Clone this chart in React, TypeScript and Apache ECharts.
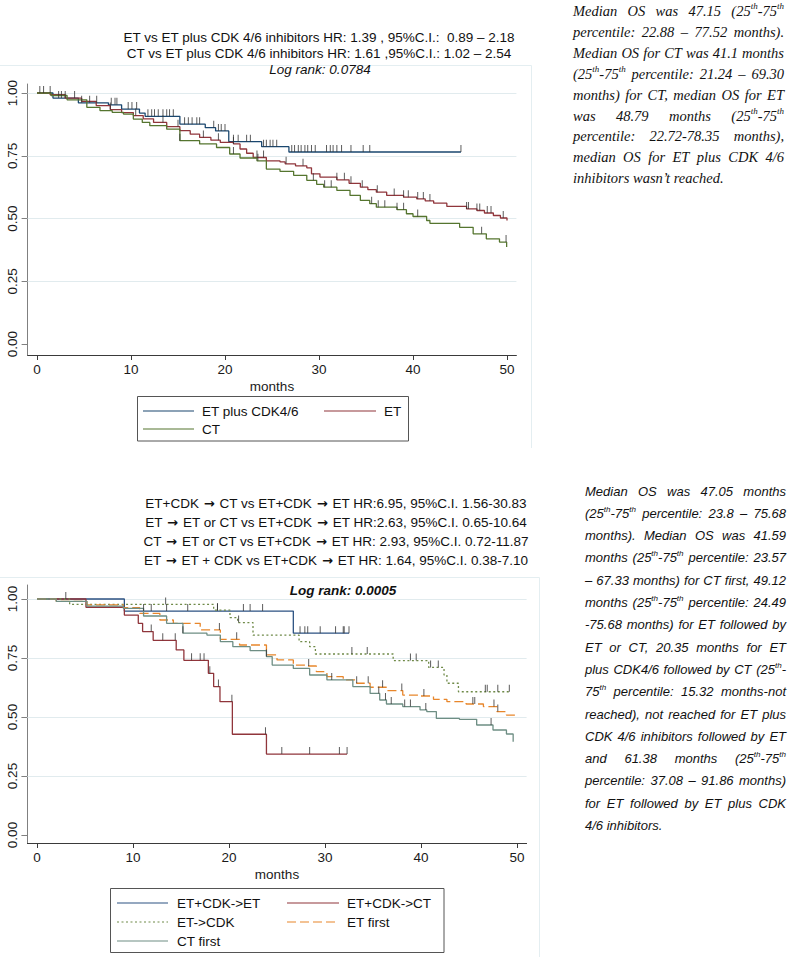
import React, { useEffect, useRef } from "react";
import * as echarts from "echarts";

const FONT = "Liberation Sans";
const SERIF = "Liberation Serif";

// ---------- axis ticks ----------
const monthTicks = [0, 10, 20, 30, 40, 50];
const survTicks = [0, 0.25, 0.5, 0.75, 1];
const gridLevels = [0.25, 0.5, 0.75, 1];

// ---------- top chart ----------
const topCdkTime = [0, 1.7, 4.4, 7.6, 9.0, 10.9, 11.5, 15.2, 17.9, 19.0, 20.4, 23.9, 26.8, 45.1];
const topCdkSurv = [1, 0.98, 0.961, 0.953, 0.936, 0.92, 0.907, 0.876, 0.862, 0.849, 0.806, 0.786, 0.765, 0.765];
const topCdkCensor = [0.3, 0.7, 1.4, 2.3, 2.6, 3.0, 4.0, 4.75, 5.6, 6.35, 7.9, 8.3, 8.5, 9.7, 10.1, 10.6, 11.8, 12.2, 12.5, 12.9, 13.4, 13.8, 14.1, 14.5, 15.7, 16.1, 16.5, 17.0, 17.3, 18.8, 19.3, 19.6, 20.0, 20.9, 21.4, 22.3, 22.7, 24.1, 24.4, 24.8, 25.1, 25.5, 27.1, 27.4, 27.8, 28.1, 28.5, 28.8, 29.2, 29.6, 30.8, 31.2, 31.5, 31.9, 32.4, 33.4, 34.7, 35.4, 45.1];

const topEtTime = [0, 1.4, 3.0, 4.75, 6.3, 7.8, 9.0, 10.25, 11.3, 12.4, 13.8, 15.2, 16.3, 17.3, 18.5, 19.5, 20.9, 21.6, 22.3, 23.0, 24.4, 25.85, 26.4, 27.5, 28.7, 29.2, 30.1, 31.9, 33.2, 34.4, 35.2, 36.1, 37.2, 39.0, 40.4, 41.3, 42.2, 43.6, 45.7, 46.8, 47.6, 48.55, 49.3, 50.0];
const topEtSurv = [1, 0.993, 0.98, 0.967, 0.95, 0.934, 0.922, 0.91, 0.897, 0.883, 0.866, 0.85, 0.836, 0.823, 0.812, 0.803, 0.797, 0.777, 0.76, 0.743, 0.73, 0.726, 0.718, 0.71, 0.702, 0.678, 0.665, 0.654, 0.64, 0.625, 0.615, 0.605, 0.592, 0.585, 0.578, 0.57, 0.561, 0.548, 0.538, 0.532, 0.522, 0.512, 0.502, 0.492];
const topEtCensor = [7.8, 10.5, 13.4, 15.0, 17.7, 19.3, 20.9, 23.4, 24.1, 26.5, 28.3, 31.9, 32.7, 33.4, 34.6, 36.2, 38.0, 39.0, 39.5, 40.5, 41.1, 41.8, 45.7, 45.9, 46.8, 47.1, 47.9, 48.3, 49.6];

const topCtTime = [0, 1.5, 3.2, 5.3, 6.7, 8.0, 9.2, 10.25, 11.2, 12.0, 13.8, 15.2, 17.3, 19.1, 20.5, 21.6, 23.4, 24.4, 25.85, 27.3, 28.7, 29.75, 30.5, 31.9, 33.3, 34.4, 35.4, 36.1, 38.3, 39.3, 40.0, 41.45, 41.8, 44.96, 46.4, 47.8, 49.2, 49.96];
const topCtSurv = [1, 0.99, 0.973, 0.943, 0.93, 0.923, 0.916, 0.896, 0.883, 0.87, 0.856, 0.81, 0.797, 0.783, 0.757, 0.741, 0.73, 0.697, 0.688, 0.672, 0.652, 0.636, 0.625, 0.612, 0.592, 0.572, 0.559, 0.545, 0.535, 0.519, 0.508, 0.492, 0.481, 0.465, 0.439, 0.419, 0.406, 0.386];
const topCtCensor = [15.2, 20.9, 23.5, 29.4, 30.6, 31.3, 35.6, 36.3, 37.0, 38.3, 39.0, 40.5, 47.3, 49.9];

const topHeader = [
  "ET vs ET plus CDK 4/6 inhibitors HR: 1.39 , 95%C.I.:  0.89 – 2.18",
  "CT vs ET plus CDK 4/6 inhibitors HR: 1.61 ,95%C.I.: 1.02 – 2.54",
];
const topLogRank = "Log rank: 0.0784";

const topNote = [
  "Median OS was 47.15 (25{th}-75{th}",
  "percentile: 22.88 – 77.52 months).",
  "Median OS for CT was 41.1 months",
  "(25{th}-75{th} percentile: 21.24 – 69.30",
  "months) for CT, median OS for ET",
  "was 48.79 months (25{th}-75{th}",
  "percentile: 22.72-78.35 months),",
  "median OS for ET plus CDK 4/6",
  "inhibitors wasn’t reached.",
];

// ---------- bottom chart ----------
const botCdkEtTime = [0, 9.1, 26.7, 32.5];
const botCdkEtSurv = [1, 0.949, 0.855, 0.855];
const botCdkEtCensor = [3.0, 11.1, 11.9, 13.5, 15.7, 18.8, 21.5, 22.2, 23.5, 27.4, 27.9, 28.2, 29.5, 31.1, 31.9, 32.0, 32.5];

const botCdkCtTime = [0, 5.1, 9.1, 10.55, 11.0, 12.1, 14.5, 15.3, 17.85, 18.4, 19.06, 20.35, 23.9, 32.3];
const botCdkCtSurv = [1, 0.965, 0.932, 0.897, 0.862, 0.825, 0.784, 0.74, 0.685, 0.629, 0.565, 0.427, 0.343, 0.343];
const botCdkCtCensor = [11.9, 13.1, 14.4, 16.1, 17.0, 17.4, 18.0, 18.9, 20.3, 23.8, 25.5, 28.4, 31.5, 32.3];

const botEtCdkTime = [0, 3.4, 18.4, 20.1, 20.9, 22.5, 27.3, 28.4, 29.0, 37.1, 40.8, 42.4, 42.7, 43.9, 49.4];
const botEtCdkSurv = [1, 0.977, 0.953, 0.921, 0.9, 0.847, 0.819, 0.798, 0.767, 0.739, 0.71, 0.678, 0.643, 0.607, 0.607];
const botEtCdkCensor = [13.4, 18.8, 21.0, 32.8, 34.4, 38.9, 39.5, 41.0, 41.8, 46.7, 46.9, 48.0, 49.2];

const botEtFirstTime = [0, 2.0, 5.2, 9.0, 10.7, 12.8, 14.2, 17.0, 19.1, 21.1, 23.9, 25.0, 26.7, 28.1, 29.1, 30.2, 31.9, 33.3, 34.7, 36.4, 38.1, 39.9, 41.3, 42.7, 44.7, 46.5, 47.9, 48.9, 49.8];
const botEtFirstSurv = [1, 0.99, 0.975, 0.963, 0.939, 0.911, 0.897, 0.869, 0.829, 0.805, 0.763, 0.742, 0.72, 0.716, 0.692, 0.671, 0.657, 0.643, 0.626, 0.612, 0.593, 0.589, 0.575, 0.565, 0.555, 0.544, 0.523, 0.508, 0.494];
const botEtFirstCensor = [19.0, 20.8, 28.3, 33.3, 34.5, 36.0, 38.0, 40.3, 45.4, 45.6, 47.6, 48.0];

const botCtFirstTime = [0, 2.0, 5.2, 9.0, 11.1, 13.5, 15.2, 17.7, 19.1, 20.4, 22.2, 23.9, 24.5, 26.7, 28.4, 30.2, 32.9, 34.7, 35.7, 36.4, 38.1, 39.9, 40.6, 41.6, 44.0, 45.8, 47.5, 48.9, 49.6];
const botCtFirstSurv = [1, 0.99, 0.97, 0.96, 0.928, 0.897, 0.855, 0.847, 0.819, 0.798, 0.781, 0.756, 0.72, 0.706, 0.678, 0.657, 0.629, 0.6, 0.572, 0.555, 0.544, 0.53, 0.523, 0.494, 0.49, 0.466, 0.445, 0.428, 0.395];
const botCtFirstCensor = [15.2, 23.9, 30.7, 35.6, 36.3, 36.9, 38.3, 38.9, 40.5, 47.3];

// "{a|→}" marks the arrow glyph
const botHeader = [
  "ET+CDK {a|→} CT vs ET+CDK {a|→} ET HR:6.95, 95%C.I. 1.56-30.83",
  "ET {a|→} ET or CT vs ET+CDK {a|→} ET HR:2.63, 95%C.I. 0.65-10.64",
  "CT {a|→} ET or CT vs ET+CDK {a|→} ET HR: 2.93, 95%C.I. 0.72-11.87",
  "ET {a|→} ET + CDK vs ET+CDK {a|→} ET HR: 1.64, 95%C.I. 0.38-7.10",
];
const botLogRank = "Log rank: 0.0005";

const botNote = [
  "Median OS was 47.05 months",
  "(25{th}-75{th} percentile: 23.8 – 75.68",
  "months). Median OS was 41.59",
  "months (25{th}-75{th} percentile: 23.57",
  "– 67.33 months) for CT first, 49.12",
  "months (25{th}-75{th} percentile: 24.49",
  "-75.68 months) for ET followed by",
  "ET or CT, 20.35 months for ET",
  "plus CDK4/6 followed by CT (25{th}-",
  "75{th} percentile: 15.32 months-not",
  "reached), not reached for ET plus",
  "CDK 4/6 inhibitors followed by ET",
  "and 61.38 months (25{th}-75{th}",
  "percentile: 37.08 – 91.86 months)",
  "for ET followed by ET plus CDK",
  "4/6 inhibitors.",
];

// ---------- helpers ----------
type Curve = { name: string; t: number[]; s: number[]; c: number[]; color: string; dash: any };

const topCurves: Curve[] = [
  { name: "ET plus CDK4/6", t: topCdkTime, s: topCdkSurv, c: topCdkCensor, color: "#1a476f", dash: "solid" },
  { name: "ET", t: topEtTime, s: topEtSurv, c: topEtCensor, color: "#90353b", dash: "solid" },
  { name: "CT", t: topCtTime, s: topCtSurv, c: topCtCensor, color: "#55752f", dash: "solid" },
];
const botCurves: Curve[] = [
  { name: "ET+CDK->ET", t: botCdkEtTime, s: botCdkEtSurv, c: botCdkEtCensor, color: "#2c5282", dash: "solid" },
  { name: "ET+CDK->CT", t: botCdkCtTime, s: botCdkCtSurv, c: botCdkCtCensor, color: "#90353b", dash: "solid" },
  { name: "ET->CDK", t: botEtCdkTime, s: botEtCdkSurv, c: botEtCdkCensor, color: "#6f8a48", dash: [2, 2.5] },
  { name: "ET first", t: botEtFirstTime, s: botEtFirstSurv, c: botEtFirstCensor, color: "#e8862b", dash: [9, 4] },
  { name: "CT first", t: botCtFirstTime, s: botCtFirstSurv, c: botCtFirstCensor, color: "#6e8e84", dash: "solid" },
];

function survAt(t: number[], s: number[], x: number) {
  let v = s[0];
  for (let i = 0; i < t.length; i++) if (t[i] <= x) v = s[i];
  return v;
}

function curveSeries(cv: Curve, gi: number, first: boolean) {
  const line: any = {
    type: "line",
    name: cv.name,
    xAxisIndex: gi,
    yAxisIndex: gi,
    data: cv.t.map((v, i) => [v, cv.s[i]]),
    step: "end",
    symbol: "none",
    showSymbol: false,
    silent: true,
    z: 3,
    lineStyle: { color: cv.color, width: 1.3, type: cv.dash },
  };
  if (first) {
    line.markLine = {
      silent: true,
      z: 1,
      symbol: ["none", "none"],
      label: { show: false },
      lineStyle: { color: "#e1ebee", width: 1, type: "solid" },
      data: gridLevels.map((v) => ({ yAxis: v })),
    };
  }
  const ticks = {
    type: "scatter",
    xAxisIndex: gi,
    yAxisIndex: gi,
    data: cv.c.map((x) => [x, survAt(cv.t, cv.s, x)]),
    symbol: "rect",
    symbolSize: [1, 7],
    symbolOffset: [0, -3.5],
    itemStyle: { color: "#333" },
    silent: true,
    z: 4,
  };
  return [line, ticks];
}

function xAxis(gi: number) {
  return {
    type: "value",
    gridIndex: gi,
    min: -1,
    max: 51,
    axisLine: { show: true, onZero: false, lineStyle: { color: "#3a3a3a", width: 1 } },
    axisTick: { show: true, customValues: monthTicks, length: 5, lineStyle: { color: "#3a3a3a" } },
    axisLabel: { show: true, customValues: monthTicks, margin: 7, fontSize: 13.5, fontFamily: FONT, color: "#1a1a1a" },
    splitLine: { show: false },
    name: "months",
    nameLocation: "middle",
    nameGap: 24,
    nameTextStyle: { fontSize: 13.5, fontFamily: FONT, color: "#1a1a1a" },
  };
}

function yAxis(gi: number, min: number, max: number) {
  return {
    type: "value",
    gridIndex: gi,
    min,
    max,
    axisLine: { show: true, onZero: false, lineStyle: { color: "#808080", width: 1 } },
    axisTick: { show: true, customValues: survTicks, length: 6, lineStyle: { color: "#808080" } },
    axisLabel: {
      show: true,
      customValues: survTicks,
      rotate: 90,
      margin: 8,
      fontSize: 13.5,
      fontFamily: FONT,
      color: "#1a1a1a",
      formatter: (v: number) => v.toFixed(2),
    },
    splitLine: { show: false },
  };
}

type Seg = { text: string; sup: boolean };
function parseWord(w: string): Seg[] {
  const segs: Seg[] = [];
  const re = /\{([^}]*)\}/g;
  let last = 0;
  let m: RegExpExecArray | null;
  while ((m = re.exec(w))) {
    if (m.index > last) segs.push({ text: w.slice(last, m.index), sup: false });
    segs.push({ text: m[1], sup: true });
    last = re.lastIndex;
  }
  if (last < w.length) segs.push({ text: w.slice(last), sup: false });
  return segs;
}

function justified(lines: string[], o: { left: number; right: number; top: number; lineH: number; size: number; family: string }) {
  const canvas = document.createElement("canvas");
  const ctx = canvas.getContext("2d")!;
  const supSize = o.size * 0.62;
  const cssFont = (sz: number) => `italic ${sz}px "${o.family}"`;
  const measure = (seg: Seg) => {
    ctx.font = cssFont(seg.sup ? supSize : o.size);
    return ctx.measureText(seg.text).width;
  };
  ctx.font = cssFont(o.size);
  const spaceW = ctx.measureText(" ").width;
  const els: any[] = [];
  lines.forEach((line, li) => {
    const words = line.split(" ").filter(Boolean).map(parseWord);
    const widths = words.map((ws) => ws.reduce((a, s) => a + measure(s), 0));
    const total = widths.reduce((a, b) => a + b, 0);
    const isLast = li === lines.length - 1;
    const gap = !isLast && words.length > 1 ? (o.right - o.left - total) / (words.length - 1) : spaceW;
    let x = o.left;
    const y = o.top + li * o.lineH;
    words.forEach((segs) => {
      segs.forEach((seg) => {
        const w = measure(seg);
        els.push({
          type: "text",
          x,
          y: seg.sup ? y - o.size * 0.33 : y,
          silent: true,
          style: {
            text: seg.text,
            fontSize: seg.sup ? supSize : o.size,
            fontFamily: o.family,
            fontStyle: "italic",
            fill: "#111",
            align: "left",
            verticalAlign: "middle",
          },
        });
        x += w;
      });
      x += gap;
    });
  });
  return els;
}

function txt(text: string, x: number, y: number, extra: any = {}) {
  return {
    type: "text",
    x,
    y,
    silent: true,
    style: { text, fontSize: 13.5, fontFamily: FONT, fill: "#111", align: "center", verticalAlign: "middle", ...extra },
  };
}

function legendLine(x1: number, x2: number, y: number, cv: Curve) {
  return {
    type: "line",
    silent: true,
    shape: { x1, y1: y, x2, y2: y },
    style: { stroke: cv.color, lineWidth: 1.2, lineDash: cv.dash === "solid" ? null : cv.dash },
  };
}

function buildOption() {
  const graphic: any[] = [];
  // faint graph-region borders
  graphic.push({ type: "polyline", silent: true, shape: { points: [[0, 65.5], [531.5, 65.5], [531.5, 448]] }, style: { stroke: "#e4eef1", lineWidth: 1, fill: "none" } });
  graphic.push({ type: "polyline", silent: true, shape: { points: [[0, 577.5], [539.5, 577.5], [539.5, 957]] }, style: { stroke: "#e4eef1", lineWidth: 1, fill: "none" } });

  // headers
  topHeader.forEach((h, i) => graphic.push(txt(h, 319, 37 + i * 16.5)));
  graphic.push(txt(topLogRank, 320, 69, { fontStyle: "italic" }));
  botHeader.forEach((h, i) =>
    graphic.push(
      txt(h, 336, 503 + i * 19, {
        rich: { a: { fontFamily: "DejaVu Sans", fontSize: 13, fontWeight: "bold", fill: "#111", padding: [0, 1, 0, 1] } },
      })
    )
  );
  graphic.push(txt(botLogRank, 343, 590, { fontStyle: "italic", fontWeight: "bold" }));

  // top legend
  graphic.push({ type: "rect", silent: true, shape: { x: 137.5, y: 396.5, width: 271, height: 44.5 }, style: { fill: "none", stroke: "#555", lineWidth: 1 } });
  graphic.push(legendLine(143, 194, 411, topCurves[0]));
  graphic.push(txt(topCurves[0].name, 202, 411, { align: "left" }));
  graphic.push(legendLine(324, 376, 411, topCurves[1]));
  graphic.push(txt(topCurves[1].name, 384, 411, { align: "left" }));
  graphic.push(legendLine(143, 194, 429, topCurves[2]));
  graphic.push(txt(topCurves[2].name, 202, 429, { align: "left" }));

  // bottom legend
  graphic.push({ type: "rect", silent: true, shape: { x: 110.5, y: 888.5, width: 333.5, height: 64 }, style: { fill: "none", stroke: "#555", lineWidth: 1 } });
  const pos = [
    [117, 168, 177, 903],
    [287, 339, 347, 903],
    [117, 168, 177, 922],
    [287, 339, 347, 922],
    [117, 168, 177, 941],
  ];
  botCurves.forEach((cv, i) => {
    const [a, b, lx, y] = pos[i];
    graphic.push(legendLine(a, b, y, cv));
    graphic.push(txt(cv.name, lx, y, { align: "left" }));
  });

  // side notes
  graphic.push(...justified(topNote, { left: 573, right: 784, top: 11, lineH: 20.9, size: 14.5, family: SERIF }));
  graphic.push(...justified(botNote, { left: 585, right: 786, top: 491, lineH: 22.3, size: 13, family: FONT }));

  const series: any[] = [];
  topCurves.forEach((cv, i) => series.push(...curveSeries(cv, 0, i === 0)));
  botCurves.forEach((cv, i) => series.push(...curveSeries(cv, 1, i === 0)));

  return {
    animation: false,
    backgroundColor: "#ffffff",
    grid: [
      { left: 27.6, top: 84, width: 488.8, height: 271, containLabel: false, outerBoundsMode: "none" },
      { left: 27.4, top: 585, width: 499.2, height: 258, containLabel: false, outerBoundsMode: "none" },
    ],
    xAxis: [xAxis(0), xAxis(1)],
    yAxis: [yAxis(0, -0.0438, 1.0359), yAxis(1, -0.0339, 1.0593)],
    series,
    graphic,
  };
}

export default function App() {
  const ref = useRef<HTMLDivElement>(null);
  useEffect(() => {
    document.body.style.margin = "0";
    const chart = echarts.init(ref.current!, null, { renderer: "svg" });
    chart.setOption(buildOption() as any);
    return () => chart.dispose();
  }, []);
  return <div ref={ref} style={{ width: 789, height: 957 }} />;
}
